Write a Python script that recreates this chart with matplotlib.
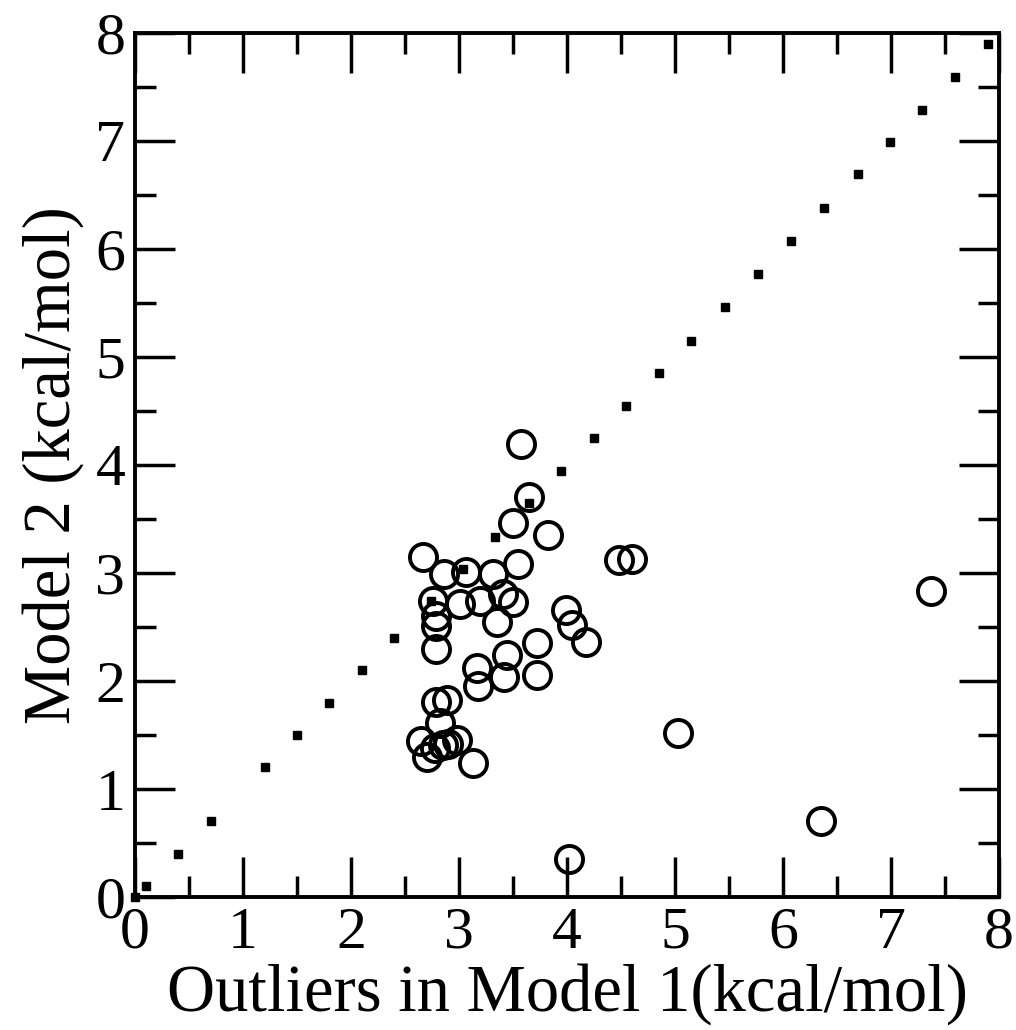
import matplotlib
matplotlib.use("Agg")
import matplotlib.pyplot as plt
from matplotlib.ticker import MultipleLocator

plt.rcParams["font.family"] = ["Liberation Serif", "DejaVu Serif"]

# Reference diagonal (y = x), drawn as small squares
diag = [0.0, 0.1, 0.4, 0.7, 1.2, 1.5, 1.8, 2.1, 2.4, 2.74, 3.04, 3.33, 3.65,
        3.94, 4.25, 4.55, 4.85, 5.15, 5.46, 5.77, 6.07, 6.38, 6.69, 6.99,
        7.29, 7.59, 7.9]

# Outliers: Model 1 value vs Model 2 value (kcal/mol)
model1 = [3.57, 3.65, 3.50, 3.82, 2.67, 2.86, 3.06, 3.31, 3.55, 4.48, 4.60,
          2.76, 3.01, 3.19, 3.41, 3.50, 3.35, 2.79, 2.79, 2.79, 3.99, 4.05,
          4.18, 3.72, 3.72, 3.44, 3.42, 3.17, 3.18, 2.79, 2.89, 2.82, 2.65,
          2.98, 2.70, 2.78, 2.85, 2.90, 3.13, 5.03, 6.35, 4.02, 7.37]
model2 = [4.19, 3.70, 3.46, 3.35, 3.15, 2.99, 3.01, 2.99, 3.08, 3.12, 3.13,
          2.74, 2.71, 2.74, 2.81, 2.73, 2.55, 2.60, 2.51, 2.30, 2.66, 2.52,
          2.36, 2.35, 2.06, 2.24, 2.04, 2.12, 1.95, 1.81, 1.82, 1.61, 1.44,
          1.45, 1.30, 1.38, 1.41, 1.42, 1.24, 1.52, 0.70, 0.35, 2.83]

fig = plt.figure(figsize=(10.16, 10.30), dpi=100)
ax = fig.add_axes([0.1329, 0.1291, 0.8504, 0.8389])

ax.plot(diag, diag, linestyle="none", marker="s", markersize=5.5,
        color="black", clip_on=False, zorder=3)
ax.plot(model1, model2, linestyle="none", marker="o", markersize=19.5,
        markerfacecolor="none", markeredgecolor="black", markeredgewidth=2.8,
        zorder=2)

ax.set_xlim(0, 8)
ax.set_ylim(0, 8)
ax.xaxis.set_major_locator(MultipleLocator(1))
ax.yaxis.set_major_locator(MultipleLocator(1))
ax.xaxis.set_minor_locator(MultipleLocator(0.5))
ax.yaxis.set_minor_locator(MultipleLocator(0.5))

for s in ax.spines.values():
    s.set_linewidth(2.8)
ax.tick_params(which="both", direction="in", top=True, right=True, width=2.5)
ax.tick_params(which="major", length=29, labelsize=43, pad=7)
ax.tick_params(which="minor", length=15)

ax.set_xlabel("Outliers in Model 1(kcal/mol)", fontsize=48, labelpad=2)
ax.set_ylabel("Model 2 (kcal/mol)", fontsize=48, labelpad=8)

fig.savefig("out.png", dpi=100)
